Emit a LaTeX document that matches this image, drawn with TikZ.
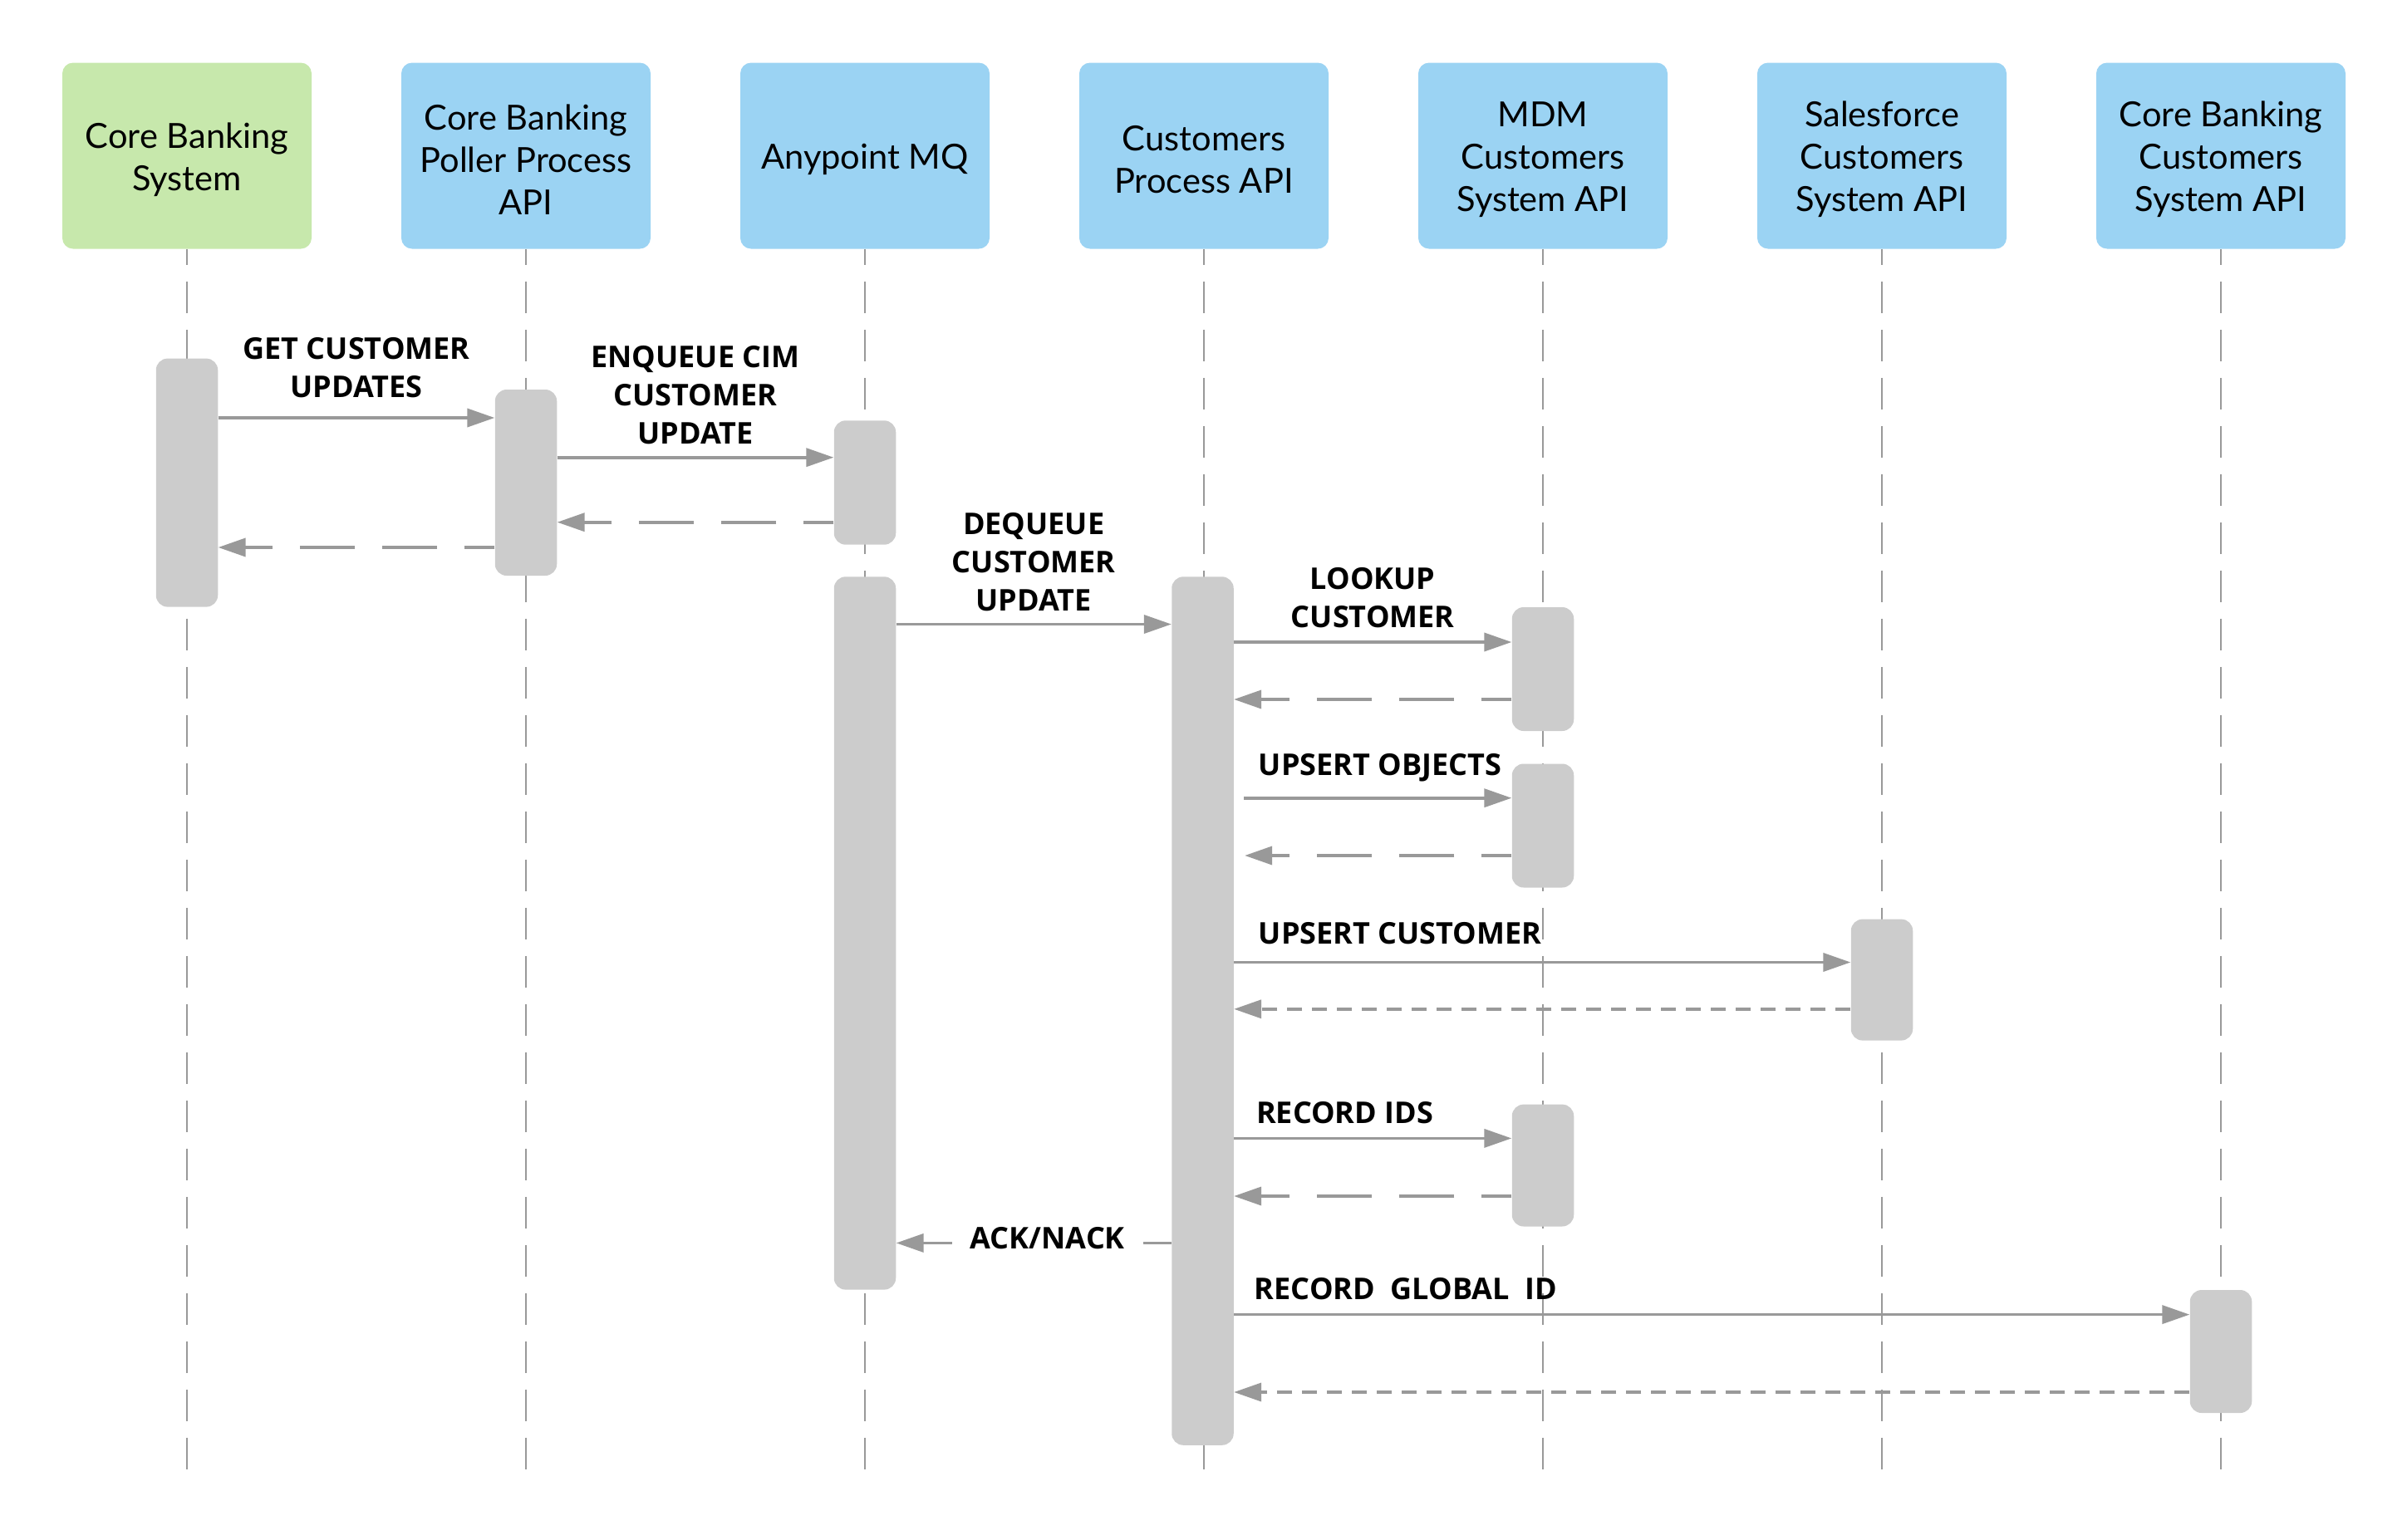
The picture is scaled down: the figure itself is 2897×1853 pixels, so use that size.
\documentclass[tikz,border=0pt]{standalone}
\usepackage{fontspec}
\setmainfont{Lato}
\setsansfont{Open Sans}
\usetikzlibrary{arrows.meta,calc,positioning}
\definecolor{headgreen}{RGB}{199,232,172}
\definecolor{headblue}{RGB}{155,211,243}
\definecolor{bargray}{RGB}{204,204,204}
\definecolor{wiregray}{RGB}{153,153,153}
\tikzset{
	sequence diagram/.style={x=.5pt, y=-.5pt},
	head/.style={rounded corners=6.5pt, minimum width=150pt, minimum height=112pt, inner sep=0pt},
	headtxt/.style={inner sep=0pt, align=center, font=\fontsize{20.8}{25.5}\selectfont},
	life/.style={draw=wiregray, line width=1.4pt, dash pattern=on 19pt off 10pt, dash phase=9.5pt},
	bar/.style={fill=bargray, rounded corners=7pt, minimum width=37.25pt, inner sep=0pt},
	ar/.style={draw=wiregray, line width=1.8pt, -{Triangle[length=16.5pt,width=11pt]}},
	rt/.style={ar, dash pattern=on 33pt off 16.5pt, dash phase=15pt},
	rts/.style={ar, dash pattern=on 9pt off 6pt},
	lbl/.style={font=\sffamily\bfseries\fontsize{18}{23}\selectfont, align=center, inner sep=0pt},
	lift/.style={yshift=#1*.5pt}
}
% activation bar: name, x, top, bottom
\newcommand\actbar[4]{\node[bar, minimum height={(#4-#3)/2}] (#1) at (#2,{(#3+#4)/2}) {};}

\begin{document}
\begin{tikzpicture}[sequence diagram]
	\useasboundingbox (0,0) rectangle (2897,1853);
	\foreach \n/\x/\c/\txt in {cbs/225/headgreen/{Core Banking\\System},
			poll/633/headblue/{Core Banking\\Poller Process\\API},
			mq/1041/headblue/{Anypoint MQ},
			cpa/1449/headblue/{Customers\\Process API},
			mdm/1857/headblue/{MDM\\Customers\\System API},
			sfc/2265/headblue/{Salesforce\\Customers\\System API},
			cbc/2673/headblue/{Core Banking\\Customers\\System API}}{
		\node[head, fill=\c] (\n) at (\x,187.5) {};
		\node[headtxt] (\n txt) at ([yshift=-2.3pt]\n.center) {\txt};
		\draw[life] (\n.south) -- (\n.south |- 0,1778);
	}
	\actbar{b1}{225}{431.6}{730.6}
	\actbar{b2}{633}{469}{693}
	\actbar{b3}{1041}{506.3}{655.7}
	\actbar{b4}{1041}{694.3}{1552.6}
	\actbar{b5}{1447.5}{694.3}{1739.8}
	\actbar{b6}{1857}{731}{880}
	\actbar{b7}{1857}{919.5}{1068.5}
	\actbar{b8}{2265}{1106.6}{1252.6}
	\actbar{b9}{1857}{1329.6}{1476.5}
	\actbar{b10}{2673}{1553}{1701}
	% polling
	\draw[ar] (b1.east |- 0,503) -- node[lbl, anchor=south, lift=22] {GET CUSTOMER\\UPDATES} (b2.west |- 0,503);
	\draw[ar] (b2.east |- 0,550.7) -- node[lbl, anchor=south, lift=13.7] {ENQUEUE CIM\\CUSTOMER\\UPDATE} (b3.west |- 0,550.7);
	\draw[rt] (b3.west |- 0,628.7) -- (b2.east |- 0,628.7);
	\draw[rt] (b2.west |- 0,659) -- (b1.east |- 0,659);
	% processing
	\draw[ar] (b4.east |- 0,751.5) -- node[lbl, anchor=south, lift=14] {DEQUEUE\\CUSTOMER\\UPDATE} (b5.west |- 0,751.5);
	\draw[ar] (b5.east |- 0,773) -- node[lbl, anchor=south, lift=15] {LOOKUP\\CUSTOMER} (b6.west |- 0,773);
	\draw[rt] (b6.west |- 0,842) -- (b5.east |- 0,842);
	\draw[ar] ($(b5.east |- 0,960.7)+(12.3,0)$) -- node[lbl, pos=0, anchor=south west, xshift=7.8pt, lift=17.7] {UPSERT OBJECTS} (b7.west |- 0,960.7);
	\draw[rt] (b7.west |- 0,1030) -- ($(b5.east |- 0,1030)+(13,0)$);
	\draw[ar] (b5.east |- 0,1158.5) -- node[lbl, pos=0, anchor=south west, xshift=14pt, lift=20] {UPSERT CUSTOMER} (b8.west |- 0,1158.5);
	\draw[rts] (b8.west |- 0,1214.8) -- (b5.east |- 0,1214.8);
	\draw[ar] (b5.east |- 0,1370.4) -- node[lbl, pos=0, anchor=south west, xshift=12.6pt, lift=16] {RECORD IDS} (b9.west |- 0,1370.4);
	\draw[rt] (b9.west |- 0,1440) -- (b5.east |- 0,1440);
	\draw[ar] (b5.west |- 0,1496.4) -- node[lbl, pos=.45, fill=white, inner xsep=11pt, anchor=base, lift=-6.6] {ACK/NACK} (b4.east |- 0,1496.4);
	\draw[ar] (b5.east |- 0,1582.6) -- node[lbl, pos=0, anchor=south west, xshift=11.5pt, lift=15.5] {RECORD\ \ GLOBAL\ \ ID} (b10.west |- 0,1582.6);
	\draw[rts] (b10.west |- 0,1676) -- (b5.east |- 0,1676);
\end{tikzpicture}
\end{document}
